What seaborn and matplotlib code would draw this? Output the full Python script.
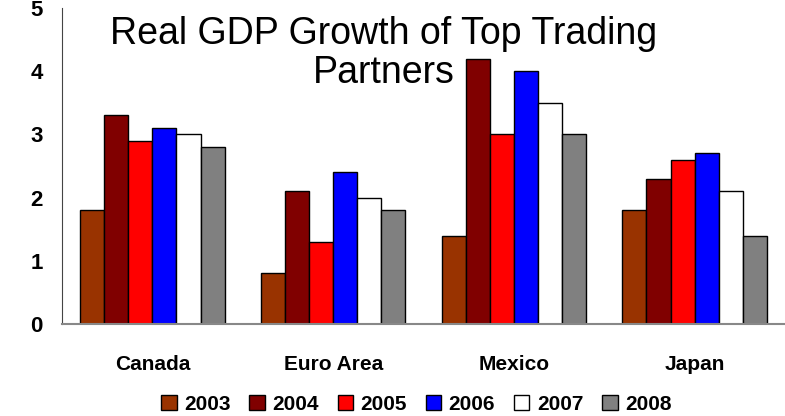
import numpy as np
import matplotlib
matplotlib.use("Agg")
import matplotlib.pyplot as plt
import seaborn as sns
import pandas as pd

# data
countries = ["Canada", "Euro Area", "Mexico", "Japan"]
years = ["2003", "2004", "2005", "2006", "2007", "2008"]
canada = [1.8, 3.3, 2.9, 3.1, 3.0, 2.8]
euro_area = [0.8, 2.1, 1.3, 2.4, 2.0, 1.8]
mexico = [1.4, 4.2, 3.0, 4.0, 3.5, 3.0]
japan = [1.8, 2.3, 2.6, 2.7, 2.1, 1.4]
colors = ["#993300", "#800000", "#ff0000", "#0000ff", "#ffffff", "#808080"]

rows = []
for country, vals in zip(countries, [canada, euro_area, mexico, japan]):
    for yr, v in zip(years, vals):
        rows.append({"Country": country, "Year": yr, "Growth": v})
df = pd.DataFrame(rows)

sns.set_style("white")
plt.rcParams['font.family'] = ['Liberation Sans', 'DejaVu Sans']
plt.rcParams['text.color'] = 'black'
plt.rcParams['xtick.color'] = 'black'
plt.rcParams['ytick.color'] = 'black'

fig = plt.figure(figsize=(7.85, 4.16), dpi=100)
ax = fig.add_axes([62 / 785, 1 - 324 / 416, 1 - 62 / 785, 316 / 416])

sns.barplot(data=df, x="Country", y="Growth", hue="Year", order=countries,
            hue_order=years, palette=colors, width=0.8, edgecolor="black",
            linewidth=1, saturation=1, ax=ax, legend=True)

ax.set_xlim(-0.5, 3.5)
ax.set_ylim(0, 5)
ax.set_yticks(range(6))
ax.set_yticklabels([str(i) for i in range(6)], fontsize=16, fontweight="bold")
ax.tick_params(axis="y", direction="out", length=6, width=1, color="#555555",
               labelcolor="black", pad=8)

# category ticks between groups, labels at centres
ax.set_xticks(np.arange(4))
ax.set_xticklabels(countries, fontsize=15, fontweight="bold")
ax.set_xticks(np.arange(-0.5, 4.0, 1.0), minor=True)
ax.tick_params(axis="x", which="major", length=0, pad=22, labelcolor="black")
ax.tick_params(axis="x", which="minor", direction="out", length=7, width=1, color="black")
ax.set_xlabel("")
ax.set_ylabel("")

for s in ["top", "right"]:
    ax.spines[s].set_visible(False)
ax.spines["left"].set_color("#444444")
ax.spines["bottom"].set_color("#888888")
ax.spines["bottom"].set_linewidth(1.5)

ax.text(0.445, 0.975, "Real GDP Growth of Top Trading\nPartners", transform=ax.transAxes,
        ha="center", va="top", fontsize=27, linespacing=1.1, color="black")

leg = ax.legend(loc="lower center", bbox_to_anchor=(0.49, -0.31), ncol=6, frameon=False,
                prop={"size": 15, "weight": "bold"}, handlelength=0.75, handleheight=0.75,
                handletextpad=0.35, columnspacing=0.9, borderaxespad=0)
for t in leg.get_texts():
    t.set_color("black")

fig.savefig("out.png", dpi=100)
